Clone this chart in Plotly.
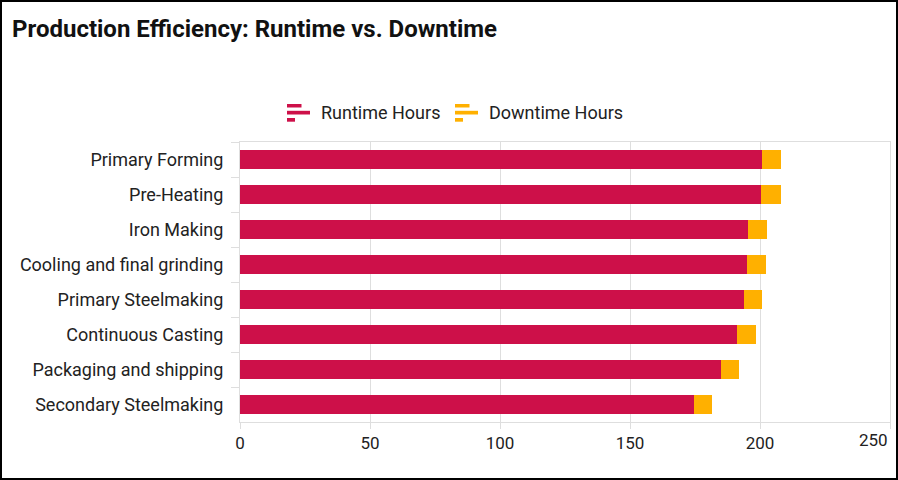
import plotly.graph_objects as go

categories = ["Primary Forming", "Pre-Heating", "Iron Making", "Cooling and final grinding",
              "Primary Steelmaking", "Continuous Casting", "Packaging and shipping", "Secondary Steelmaking"]
runtime_hours = [200.8, 200.3, 195.4, 195.0, 193.7, 191.3, 185.0, 174.5]
downtime_hours = [7.3, 7.6, 7.3, 7.3, 7.2, 7.2, 6.9, 6.9]
x_ticks = [0, 50, 100, 150, 200, 250]
series_names = ["Runtime Hours", "Downtime Hours"]
series_colors = ["#CD1049", "#FFB000"]

W, H = 898, 480
L, R, T, B = 240, 8, 142, 58
pw, ph = W - L - R, H - T - B


def px(x):
    return (x - L) / pw


def py(y):
    return (H - B - y) / ph


fig = go.Figure()
for name, vals, col in zip(series_names, [runtime_hours, downtime_hours], series_colors):
    fig.add_trace(go.Bar(y=categories, x=vals, orientation="h", name=name,
                         marker=dict(color=col, line=dict(width=0)), showlegend=False))

shapes = [dict(type="rect", xref="paper", yref="paper",
               x0=px(1), x1=px(W - 1), y0=py(H - 1), y1=py(1),
               line=dict(color="black", width=2), fillcolor="rgba(0,0,0,0)", layer="above")]
annotations = []

# custom legend (bar-style icons)
legend_icon_x = [287, 455]
legend_text_x = [319, 487]
for name, col, ix, tx in zip(series_names, series_colors, legend_icon_x, legend_text_x):
    for (w, y0, y1) in [(14.5, 104, 107.5), (23, 110.8, 114.5), (8, 118, 121.7)]:
        shapes.append(dict(type="rect", xref="paper", yref="paper",
                           x0=px(ix), x1=px(ix + w), y0=py(y1), y1=py(y0),
                           line=dict(width=0), fillcolor=col, layer="above"))
    annotations.append(dict(text=name, xref="paper", yref="paper", x=px(tx), y=py(112.5),
                            xanchor="left", yanchor="middle", showarrow=False,
                            font=dict(family="Roboto", size=18, color="#222")))

# last x tick label sits inside the chart edge
annotations.append(dict(text=str(x_ticks[-1]), xref="x", yref="paper", x=x_ticks[-1], y=py(440),
                        xanchor="right", yanchor="middle", showarrow=False,
                        font=dict(family="Roboto", size=17, color="#222")))

fig.update_layout(
    width=W, height=H,
    barmode="stack", bargap=0.43,
    margin=dict(l=L, r=R, t=T, b=B),
    paper_bgcolor="white", plot_bgcolor="white",
    font=dict(family="Roboto", size=17, color="#222"),
    title=dict(text="<b>Production Efficiency: Runtime vs. Downtime</b>",
               x=12 / W, xanchor="left", xref="container",
               y=1 - 29 / H, yanchor="middle", yref="container",
               font=dict(family="Roboto", size=24, color="#111")),
    showlegend=False,
    xaxis=dict(range=[0, 250], tickvals=x_ticks,
               ticktext=[str(v) for v in x_ticks[:-1]] + [""],
               showgrid=True, gridcolor="#dedede",
               gridwidth=1, zeroline=False, showline=True, linecolor="#dedede", mirror=True,
               ticks="outside", ticklen=6, tickcolor="#dedede",
               tickfont=dict(size=17, color="#222")),
    yaxis=dict(autorange="reversed", showline=True, linecolor="#dedede", mirror=True,
               ticks="outside", ticklen=8, tickcolor="#dedede", tickson="boundaries",
               showgrid=False, ticklabelstandoff=12,
               tickfont=dict(size=18, color="#222")),
    shapes=shapes,
    annotations=annotations,
)

fig.write_html("out.html")
